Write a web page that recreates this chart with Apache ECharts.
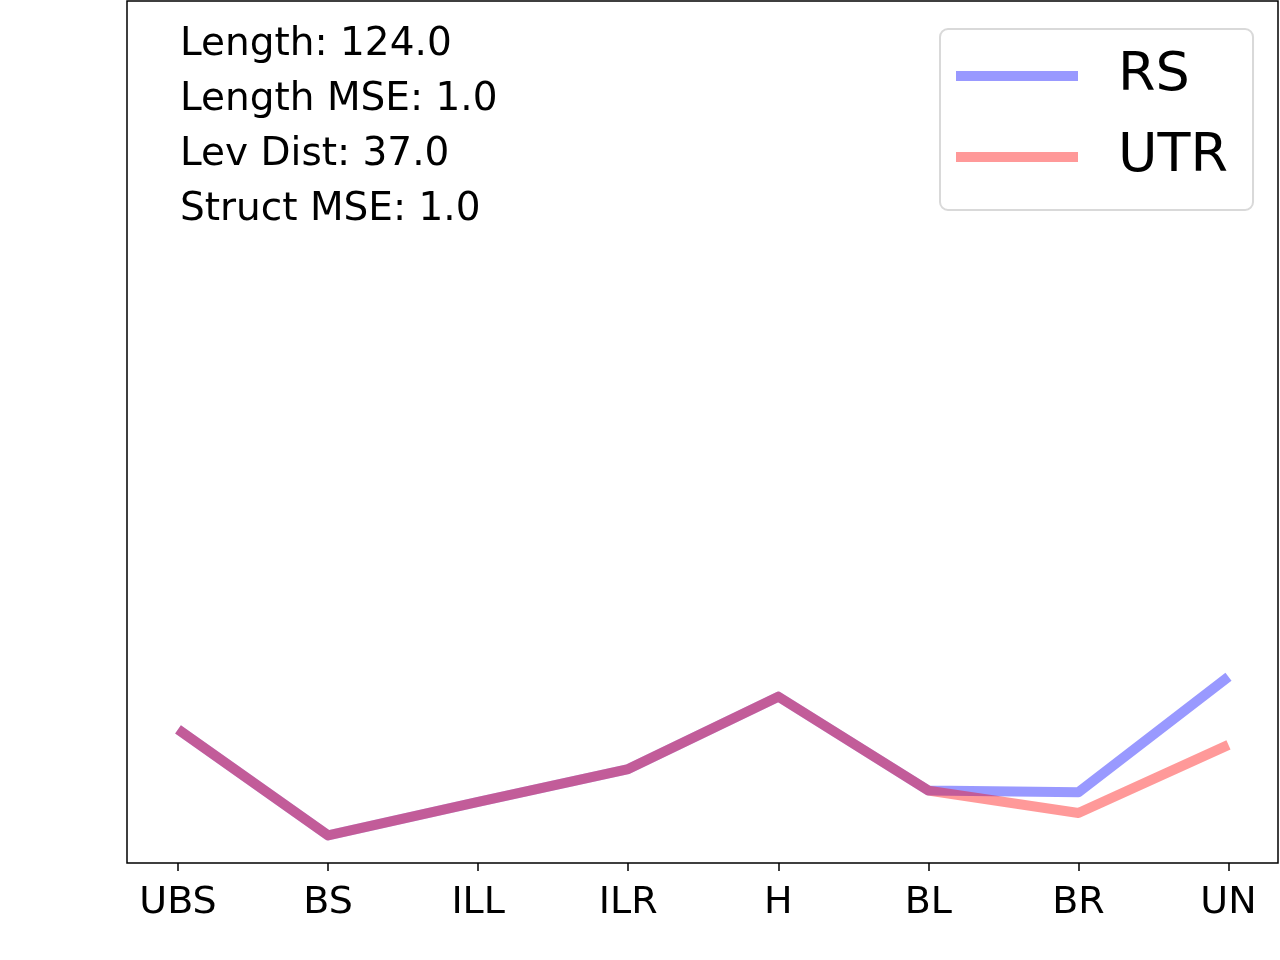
<!DOCTYPE html>
<html>
<head>
<meta charset="utf-8">
<script src="https://cdn.jsdelivr.net/npm/echarts@6/dist/echarts.min.js"></script>
<style>
html,body{margin:0;padding:0;background:#fff;}
#chart{width:1280px;height:960px;}
</style>
</head>
<body>
<div id="chart"></div>
<script>
var categories = ['UBS', 'BS', 'ILL', 'ILR', 'H', 'BL', 'BR', 'UN'];
var rsValues  = [15.5, 3.2, 7.1, 10.9, 19.3, 8.4, 8.2, 21.6];
var utrValues = [15.5, 3.2, 7.1, 10.9, 19.3, 8.4, 5.8, 13.7];
var seriesNames = ['RS', 'UTR'];
var statLines = ['Length: 124.0', 'Length MSE: 1.0', 'Lev Dist: 37.0', 'Struct MSE: 1.0'];
var tickPositions = categories.map(function (c, i) { return i; });

function pairs(vals) { return vals.map(function (v, i) { return [i, v]; }); }

var FONT = 'DejaVu Sans';
var chart = echarts.init(document.getElementById('chart'), null, {renderer: 'canvas'});

var graphics = statLines.map(function (t, i) {
  return {
    type: 'text',
    left: 180,
    top: 25 + i * 55,
    style: {text: t, font: '39px "DejaVu Sans"', fill: '#000'}
  };
});

chart.setOption({
  animation: false,
  backgroundColor: '#fff',
  grid: {
    left: 127, right: 2, top: 1, bottom: 97,
    show: true, borderColor: '#000', borderWidth: 1.5, backgroundColor: 'transparent'
  },
  xAxis: {
    type: 'value',
    min: -0.34, max: 7.33,
    axisLine: {show: false},
    splitLine: {show: false},
    axisTick: {show: true, length: 8, lineStyle: {color: '#000', width: 1.5}, customValues: tickPositions},
    axisLabel: {
      show: true, margin: 21, fontFamily: FONT, fontSize: 38, color: '#000',
      customValues: tickPositions,
      formatter: function (v) { return categories[Math.round(v)]; }
    }
  },
  yAxis: {
    type: 'value',
    min: 0, max: 100,
    axisLine: {show: false},
    axisTick: {show: false},
    axisLabel: {show: false},
    splitLine: {show: false}
  },
  legend: {
    orient: 'vertical',
    left: 940, top: 29,
    padding: [20, 25, 26, 16],
    itemGap: 27,
    itemWidth: 122, itemHeight: 10,
    icon: 'rect',
    backgroundColor: '#fff',
    borderColor: '#d9d9d9', borderWidth: 2, borderRadius: 8,
    textStyle: {fontFamily: FONT, fontSize: 54, color: '#000', padding: [0, 0, 0, 35]},
    data: seriesNames
  },
  graphic: graphics,
  series: [
    {
      name: seriesNames[0], type: 'line', data: pairs(rsValues),
      symbol: 'none', lineStyle: {width: 10, color: 'rgba(0,0,255,0.4)', join: 'round'},
      itemStyle: {color: 'rgba(0,0,255,0.4)'}
    },
    {
      name: seriesNames[1], type: 'line', data: pairs(utrValues),
      symbol: 'none', lineStyle: {width: 10, color: 'rgba(255,0,0,0.4)', join: 'round'},
      itemStyle: {color: 'rgba(255,0,0,0.4)'}
    }
  ]
});
</script>
</body>
</html>
